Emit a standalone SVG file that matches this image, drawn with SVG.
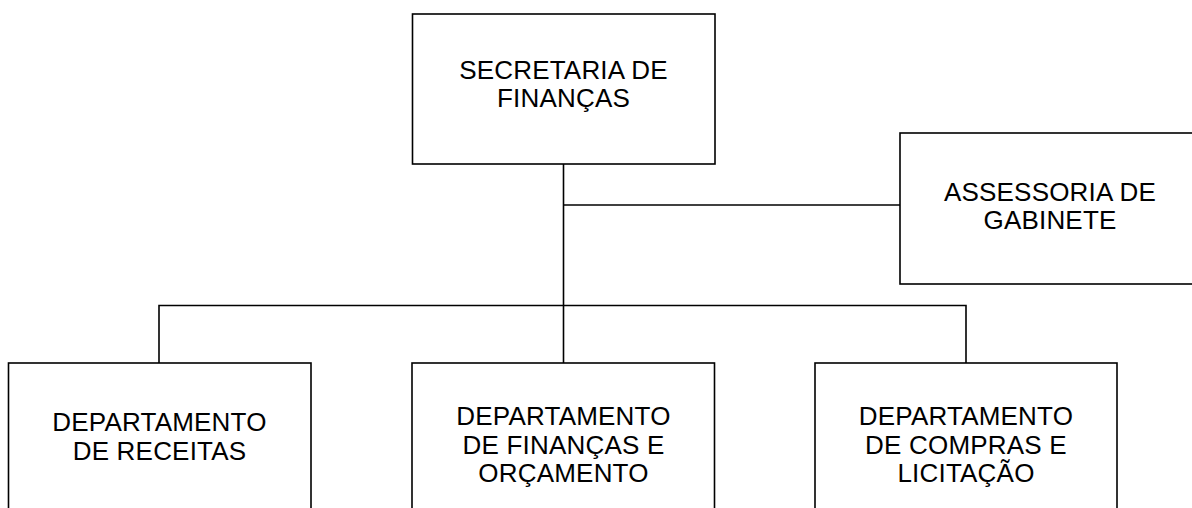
<svg xmlns="http://www.w3.org/2000/svg" width="1192" height="508" viewBox="0 0 1192 508">
<style>
.box{fill:#fff;stroke:#000;stroke-width:1.6}
.ln{fill:none;stroke:#000;stroke-width:1.6}
text{font-family:"Liberation Sans",Arial,sans-serif;font-size:26px;letter-spacing:0.2px;fill:#000;text-anchor:middle}
</style>
<rect x="0" y="0" width="1192" height="508" fill="#fff"/>
<g id="connectors">
<path class="ln" d="M563.5,164 V363"/>
<path class="ln" d="M563.5,205 H900"/>
<path class="ln" d="M159,363 V305.5 H966 V363"/>
</g>
<g id="secretaria">
<rect class="box" x="412.5" y="14" width="302.5" height="150"/>
<text x="563.5" y="79">SECRETARIA DE</text>
<text x="563.5" y="107">FINANÇAS</text>
</g>
<g id="assessoria">
<rect class="box" x="900" y="133" width="303" height="151"/>
<text x="1050" y="201">ASSESSORIA DE</text>
<text x="1050" y="229">GABINETE</text>
</g>
<g id="receitas">
<rect class="box" x="8.5" y="363" width="302.5" height="160"/>
<text x="159.5" y="431">DEPARTAMENTO</text>
<text x="159.5" y="459.5">DE RECEITAS</text>
</g>
<g id="financas">
<rect class="box" x="412" y="363" width="302.5" height="160"/>
<text x="563.5" y="425">DEPARTAMENTO</text>
<text x="563.5" y="453.5">DE FINANÇAS E</text>
<text x="563.5" y="482">ORÇAMENTO</text>
</g>
<g id="compras">
<rect class="box" x="815" y="363" width="302" height="160"/>
<text x="966" y="425">DEPARTAMENTO</text>
<text x="966" y="453.5">DE COMPRAS E</text>
<text x="966" y="482">LICITAÇÃO</text>
</g>
</svg>
